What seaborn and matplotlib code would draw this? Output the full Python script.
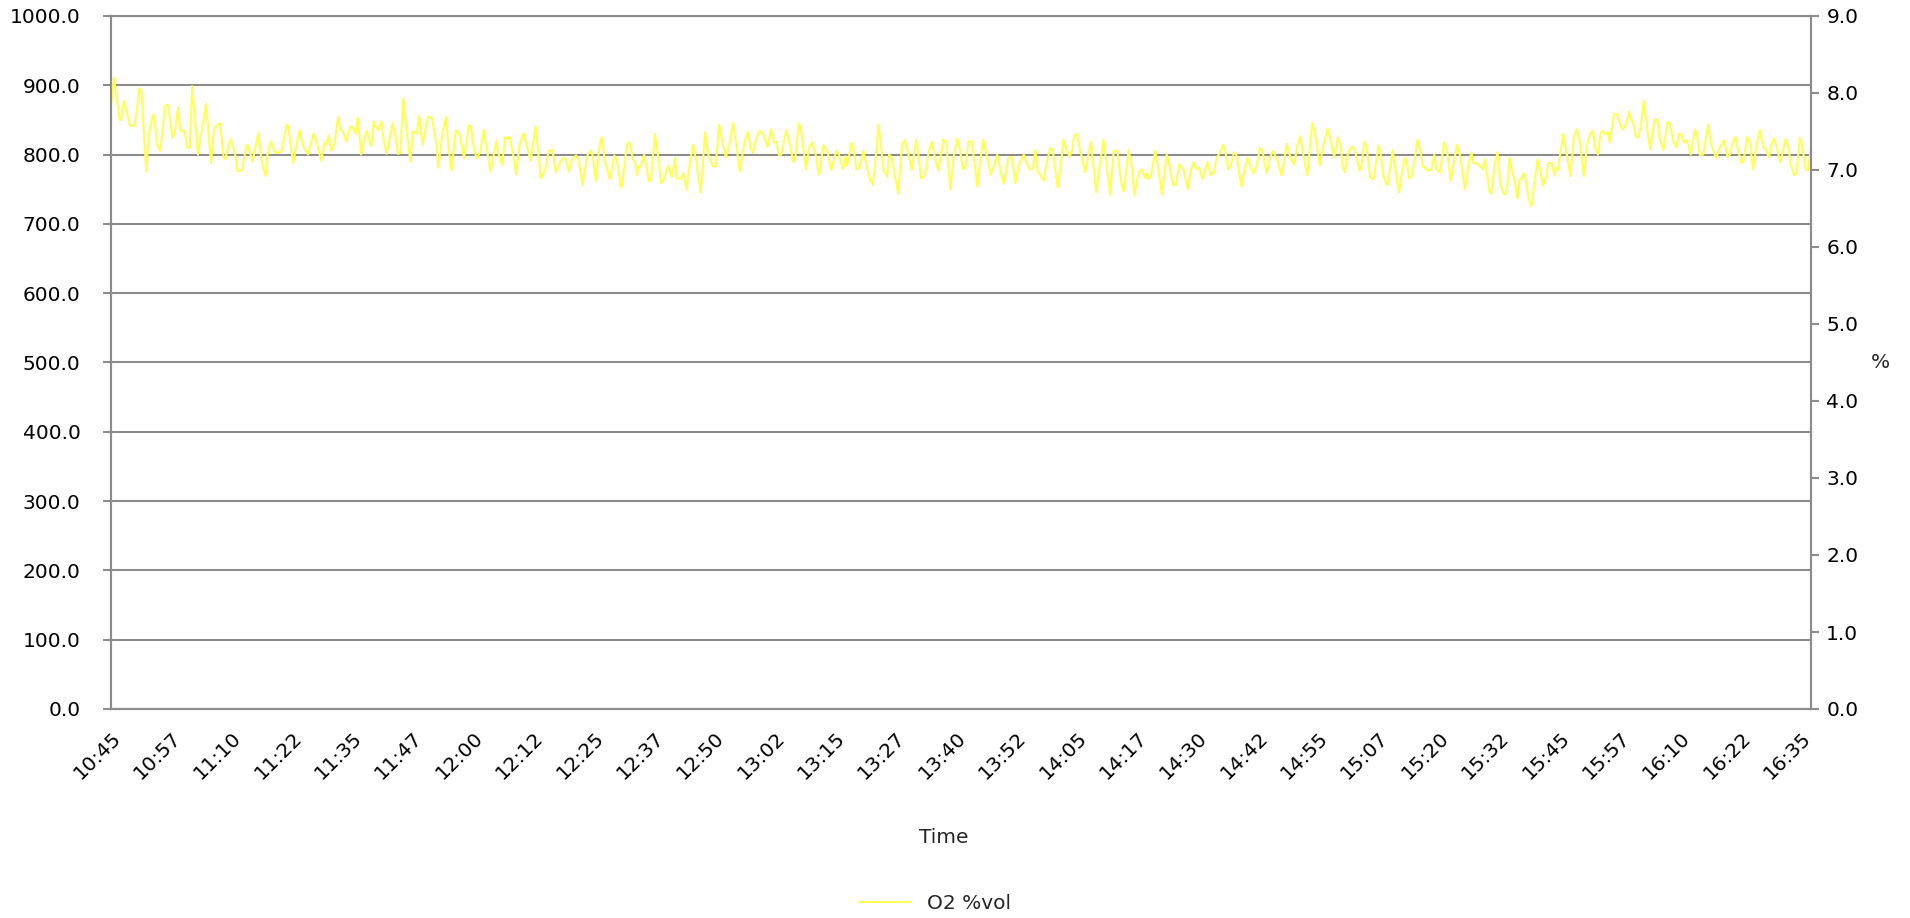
import numpy as np
import pandas as pd
import seaborn as sns
import matplotlib.pyplot as plt
from matplotlib.ticker import FormatStrFormatter

# O2 trace at its turning points (minutes after 10:45, %vol)
minutes = [
    0.0, 0.6, 1.8, 2.1, 2.7, 3.4, 3.9, 4.9, 5.9, 6.3, 7.3, 7.8, 8.7, 9.0, 9.5, 10.2, 11.2, 11.8, 12.7, 13.2,
    13.9, 14.4, 15.2, 15.8, 16.3, 16.8, 18.0, 19.7,
    20.7, 21.4, 22.2, 22.6, 23.3, 23.7, 24.4, 24.8, 25.7, 26.2, 27.1, 28.1, 28.4, 29.3, 30.5, 31.2, 32.0, 32.4,
    33.1, 34.0, 35.3, 36.4, 36.7, 37.7, 39.0, 39.8, 40.8, 41.9, 42.6, 43.5,
    44.2, 44.5, 45.1, 45.6, 46.3, 47.0, 47.5, 48.0, 48.7, 49.6, 50.2, 50.6, 51.1, 51.8, 52.9, 53.3, 53.9, 54.4,
    54.7, 55.3, 56.0, 56.5, 57.1, 58.3, 58.9, 59.4, 59.9, 60.5, 61.3, 62.0, 62.5, 63.3, 63.8, 64.5, 65.6, 66.4,
    67.3, 67.8,
    68.6, 69.4, 69.8, 70.5, 71.4, 72.2, 73.1, 74.1, 74.5, 75.2, 75.8, 76.5, 77.2, 77.7, 78.6, 79.8, 80.3, 81.0,
    81.6, 82.0, 82.5, 83.1, 83.9, 84.6, 85.5, 86.0, 86.9, 87.9, 89.0, 89.9, 90.6, 91.4, 92.1,
    92.8, 93.5, 94.1, 94.8, 95.4, 96.3, 96.8, 97.6, 98.7, 99.4, 99.7, 100.4, 101.1, 101.6, 102.3, 103.3, 104.2,
    104.7, 105.6, 105.9, 106.8, 107.3, 108.1, 108.5, 108.9, 109.2, 109.7, 110.4, 111.4, 111.8, 112.6, 113.2,
    113.9, 114.5, 115.4, 116.1, 116.8, 117.1, 118.0, 118.5, 119.2, 119.7, 120.5, 121.2, 122.1, 123.0, 123.7, 124.6,
    125.2, 125.9, 126.6, 127.3, 128.1, 128.8, 129.5, 130.2, 131.2, 131.9, 132.4, 132.9, 133.7, 134.3, 135.1,
    135.9, 136.7, 137.2, 137.7, 138.3, 138.8, 139.8, 140.5, 141.3, 141.7, 142.4, 142.9, 143.9, 144.6, 145.2,
    145.9, 146.6, 147.5, 148.4, 149.1, 150.2, 150.7, 151.5, 152.1, 152.4, 153.3, 153.7, 154.3, 155.0, 155.8,
    156.4, 157.1,
    157.7, 158.2, 158.9, 159.4, 160.0, 160.5, 160.7, 161.1, 161.6, 162.3, 163.0, 163.8, 164.4, 165.1, 165.8,
    166.7, 167.1, 167.7, 168.5, 169.4, 170.0, 170.6, 171.3, 172.3, 172.9, 173.8, 174.5, 175.2, 175.8, 176.4,
    177.0, 177.5, 178.2, 178.7, 179.4, 179.9, 180.6, 181.3, 182.1, 182.8, 183.5, 184.2, 184.9, 185.8, 186.5,
    187.3, 188.0, 189.0, 189.6,
    190.3, 190.9, 191.4, 191.9, 192.5, 193.1, 193.6, 194.5, 195.0, 196.0, 196.5, 197.2, 197.9, 198.5, 199.0,
    199.4, 200.0, 200.7, 201.7, 202.9, 204.0, 204.8, 205.5, 206.2, 206.9, 207.6, 208.4, 209.1, 209.7, 210.7,
    211.4, 211.9, 212.5, 213.1, 213.6, 214.1, 214.5, 214.8, 215.3, 216.2, 216.7, 217.6, 218.6, 219.2, 219.9,
    220.5, 221.2, 222.1,
    222.5, 223.0, 223.5, 224.1, 224.8, 225.3, 226.0, 227.0, 227.7, 228.4, 228.9, 229.6, 230.3, 230.8, 231.3,
    231.8, 232.5, 233.0, 233.5, 234.1, 234.6, 235.3, 236.0, 236.5, 237.2, 237.9, 238.4, 239.3, 240.0, 240.6,
    241.1, 241.6, 242.3, 242.8, 243.4, 243.9, 244.4, 245.0, 245.6, 246.3, 246.8, 247.7, 248.7, 249.2, 250.3,
    251.0, 251.9, 252.4, 252.8, 253.3, 254.0, 254.6,
    255.0, 255.5, 256.2, 257.1, 257.6, 258.5, 258.9, 259.5, 260.0, 260.7, 261.4, 262.4, 262.8, 263.5, 264.3,
    265.4, 265.8, 266.7, 267.3, 267.9, 268.3, 268.8, 269.3, 270.0, 270.5, 271.1, 271.6, 272.0, 272.6, 273.4,
    274.0, 274.5, 275.2, 276.0, 276.6, 277.4, 278.7, 279.4, 280.3, 281.2, 281.7, 282.1, 282.6, 283.5, 284.0,
    284.5, 285.4, 285.8, 286.5, 287.1,
    287.7, 288.2, 288.7, 289.1, 289.6, 290.1, 290.6, 291.2, 291.7, 292.1, 292.5, 293.0, 293.5, 294.1, 294.9,
    295.4, 296.5, 297.2, 297.6, 298.3, 298.9, 299.2, 299.6, 300.1, 300.7, 301.5, 302.2, 302.9, 303.5, 304.1,
    305.0, 305.6, 306.3, 306.8, 307.3, 307.9, 308.4, 308.9, 309.4, 309.9, 310.3, 311.2, 311.9, 312.3, 312.9,
    313.7, 314.3, 314.7, 315.1, 315.8, 316.3, 316.8, 317.4, 318.1, 318.7, 319.6,
    320.2, 320.7, 321.4, 322.3, 322.8, 323.5, 324.2, 324.6, 325.2, 325.7, 326.2, 326.6, 327.1, 327.9, 328.3,
    329.0, 329.7, 330.7, 331.4, 331.9, 332.4, 332.9, 333.5, 334.0, 334.7, 335.2, 335.7, 336.4, 336.9, 337.5,
    338.0, 338.8, 339.3, 340.0, 340.7, 341.4, 342.1, 342.6, 343.3, 343.8, 344.4, 345.0, 345.7, 346.7, 347.3,
    347.8, 348.5, 349.0, 349.7, 350.2, 350.9, 351.4, 351.9,
]

o2_pct = [
    7.83, 8.20, 7.65, 7.65, 7.90, 7.72, 7.58, 7.57, 8.06, 8.02, 6.98, 7.46, 7.72, 7.68, 7.33, 7.25, 7.83, 7.85, 7.42, 7.48,
    7.81, 7.51, 7.51, 7.29, 7.29, 8.09, 7.20, 7.86,
    7.09, 7.55, 7.59, 7.61, 7.16, 7.14, 7.34, 7.40, 7.20, 6.98, 7.00, 7.33, 7.31, 7.11, 7.48, 7.11, 6.92, 7.20,
    7.37, 7.22, 7.24, 7.59, 7.57, 7.09, 7.52, 7.31, 7.20, 7.47, 7.36, 7.12,
    7.35, 7.33, 7.45, 7.25, 7.35, 7.69, 7.52, 7.51, 7.37, 7.57, 7.54, 7.47, 7.68, 7.20, 7.51, 7.43, 7.31, 7.63,
    7.57, 7.52, 7.63, 7.37, 7.21, 7.61, 7.43, 7.21, 7.22, 7.93, 7.46, 7.11, 7.50, 7.47, 7.70, 7.33, 7.69, 7.68,
    7.37, 7.03,
    7.48, 7.69, 7.33, 6.99, 7.52, 7.46, 7.15, 7.58, 7.57, 7.25, 7.15, 7.25, 7.52, 7.31, 6.98, 7.38, 7.20, 7.07,
    7.43, 7.40, 7.43, 7.26, 6.94, 7.33, 7.48, 7.33, 7.12, 7.57, 6.89, 7.00, 7.25, 7.26, 6.97,
    7.07, 7.15, 7.15, 6.98, 7.13, 7.19, 7.14, 6.81, 7.20, 7.25, 7.20, 6.86, 7.29, 7.43, 7.11, 6.88, 7.19,
    7.14, 6.77, 6.83, 7.33, 7.36, 7.14, 7.11, 6.93, 7.05, 7.05, 7.20, 6.86, 6.86, 7.47, 7.22,
    6.83, 6.88, 7.06, 6.91, 7.16, 6.89, 6.89, 6.96, 6.74, 7.03, 7.33, 7.11, 6.71, 7.49, 7.20, 7.05,
    7.05, 7.59, 7.37, 7.16, 7.35, 7.61, 7.31, 6.98, 7.37, 7.49, 7.29, 7.22, 7.43, 7.51, 7.46,
    7.30, 7.53, 7.36, 7.37, 7.19, 7.20, 7.52, 7.35, 7.10, 7.17, 7.61, 7.51, 7.01, 7.30, 7.36,
    7.20, 6.94, 7.32, 7.23, 7.00, 7.25, 7.20, 7.01, 7.18, 7.05, 7.35, 7.31, 7.01, 7.03, 7.25,
    7.07, 6.89,
    6.81, 7.05, 7.59, 7.33, 6.97, 6.96, 6.91, 7.20, 7.17, 6.92, 6.70, 7.33, 7.39, 7.20, 7.00,
    7.39, 7.26, 6.89, 6.93, 7.26, 7.37, 7.16, 6.99, 7.39, 7.37, 6.75, 7.18, 7.41, 7.26, 7.01,
    7.05, 7.37, 7.37, 7.14, 6.78, 7.09, 7.39, 7.20, 6.94, 7.05, 7.20, 6.98, 6.82, 7.16, 7.17,
    6.83, 7.07, 7.20, 7.09,
    7.00, 7.03, 7.26, 6.97, 6.93, 6.86, 7.05, 7.29, 7.26, 6.77, 6.97, 7.39, 7.26, 7.17, 7.25,
    7.44, 7.47, 7.25, 6.97, 7.37, 6.71, 7.09, 7.39, 7.03, 6.68, 7.25, 7.25, 6.86, 6.72, 7.26,
    7.03, 6.67, 6.89, 7.00, 7.00, 6.89, 6.96, 6.88, 6.92, 7.25, 7.08, 6.68, 7.20, 7.05, 6.81,
    6.81, 7.07, 7.00,
    6.88, 6.75, 6.97, 7.10, 7.01, 7.03, 6.88, 7.10, 6.93, 6.98, 7.16, 7.22, 7.33, 7.22, 7.01,
    7.05, 7.23, 7.20, 7.00, 6.78, 6.97, 7.16, 7.03, 6.96, 7.05, 7.29, 7.25, 6.96, 7.16, 7.25,
    7.18, 7.11, 6.93, 7.07, 7.34, 7.22, 7.14, 7.07, 7.31, 7.44, 7.22, 6.93, 7.61, 7.51, 7.06,
    7.31, 7.54, 7.43, 7.29, 7.17, 7.42, 7.33,
    7.05, 6.97, 7.25, 7.30, 7.25, 6.99, 7.05, 7.37, 7.29, 6.91, 6.88, 7.32, 7.25, 6.91, 6.80,
    7.26, 7.05, 6.71, 6.97, 7.16, 7.11, 6.89, 6.92, 7.16, 7.39, 7.26, 7.04, 7.04, 6.99, 7.01,
    7.20, 7.00, 6.97, 7.36, 7.27, 6.86, 7.33, 7.17, 6.75, 7.11, 7.23, 7.09, 7.09, 7.05, 7.01,
    7.14, 6.73, 6.69, 7.07, 7.23,
    6.81, 6.71, 6.68, 6.79, 7.16, 6.98, 6.88, 6.63, 6.88, 6.89, 6.96, 6.86, 6.63, 6.53, 6.92,
    7.14, 6.80, 6.92, 7.09, 7.09, 6.93, 7.03, 7.00, 7.22, 7.47, 7.18, 6.92, 7.42, 7.53, 7.37,
    6.92, 7.33, 7.47, 7.51, 7.29, 7.20, 7.47, 7.51, 7.46, 7.49, 7.36, 7.73, 7.72, 7.63, 7.53,
    7.58, 7.76, 7.65, 7.63, 7.42, 7.43, 7.61, 7.90, 7.52, 7.27, 7.65,
    7.65, 7.40, 7.26, 7.63, 7.59, 7.37, 7.29, 7.47, 7.46, 7.36, 7.39, 7.33, 7.20, 7.51, 7.49,
    7.19, 7.20, 7.59, 7.31, 7.23, 7.15, 7.26, 7.33, 7.39, 7.17, 7.20, 7.34, 7.43, 7.26, 7.10,
    7.11, 7.43, 7.37, 7.01, 7.31, 7.52, 7.30, 7.27, 7.16, 7.33, 7.41, 7.27, 7.10, 7.40, 7.31,
    7.07, 6.93, 6.96, 7.42, 7.31, 7.00, 7.00, 7.26,
]

time_labels = ['10:45', '10:57', '11:10', '11:22', '11:35', '11:47', '12:00', '12:12', '12:25', '12:37',
               '12:50', '13:02', '13:15', '13:27', '13:40', '13:52', '14:05', '14:17', '14:30', '14:42',
               '14:55', '15:07', '15:20', '15:32', '15:45', '15:57', '16:10', '16:22', '16:35']
left_ticks = [0, 100, 200, 300, 400, 500, 600, 700, 800, 900, 1000]
right_ticks = [0, 1, 2, 3, 4, 5, 6, 7, 8, 9]

df = pd.DataFrame({'Time': minutes, 'O2 %vol': o2_pct})

sns.set_style('white')
plt.rcParams['font.family'] = ['DejaVu Sans']
plt.rcParams['font.size'] = 14.5

grey = '#8c8c8c'

fig = plt.figure(figsize=(19.1, 9.18), dpi=100)
ax = fig.add_axes([111 / 1910, 1 - 709 / 918, 1700 / 1910, 693 / 918])
ax2 = ax.twinx()

sns.lineplot(data=df, x='Time', y='O2 %vol', ax=ax2, color='#ffff55', linewidth=1.5, label='O2 %vol')

# left axis only carries the grid
ax.set_ylim(0, 1000)
ax.set_yticks(left_ticks)
ax.yaxis.set_major_formatter(FormatStrFormatter('%.1f'))
ax.grid(axis='y', color=grey, linewidth=1.5)
ax.set_axisbelow(True)

ax2.set_ylim(0, 9)
ax2.set_yticks(right_ticks)
ax2.yaxis.set_major_formatter(FormatStrFormatter('%.1f'))
ax2.set_ylabel('%', rotation=0, ha='center', va='center')
ax2.yaxis.set_label_coords(1.0406, 0.5)

ax.set_xlim(0, 352)
ax.set_xticks(np.arange(len(time_labels)) * 12.5)
ax.set_xticklabels(time_labels, rotation=45, ha='right', va='top', rotation_mode='anchor')
ax.set_xlabel('Time')
ax.xaxis.set_label_coords(0.49, -0.172)
ax2.set_xlabel('')

for a in (ax, ax2):
    for side, sp in a.spines.items():
        sp.set_color(grey)
        sp.set_linewidth(1.5)
    a.tick_params(colors=grey, labelcolor='black', length=6, width=1.5, labelsize=14.5)
ax.tick_params(axis='y', pad=16)
ax.tick_params(axis='x', pad=8)
ax2.tick_params(axis='y', pad=5)

ax2.get_legend().remove()
fig.legend(loc='center', bbox_to_anchor=(0.4895, 0.0153), frameon=False,
           handlelength=2.6, fontsize=14.5)

fig.savefig('out.png', dpi=100)
